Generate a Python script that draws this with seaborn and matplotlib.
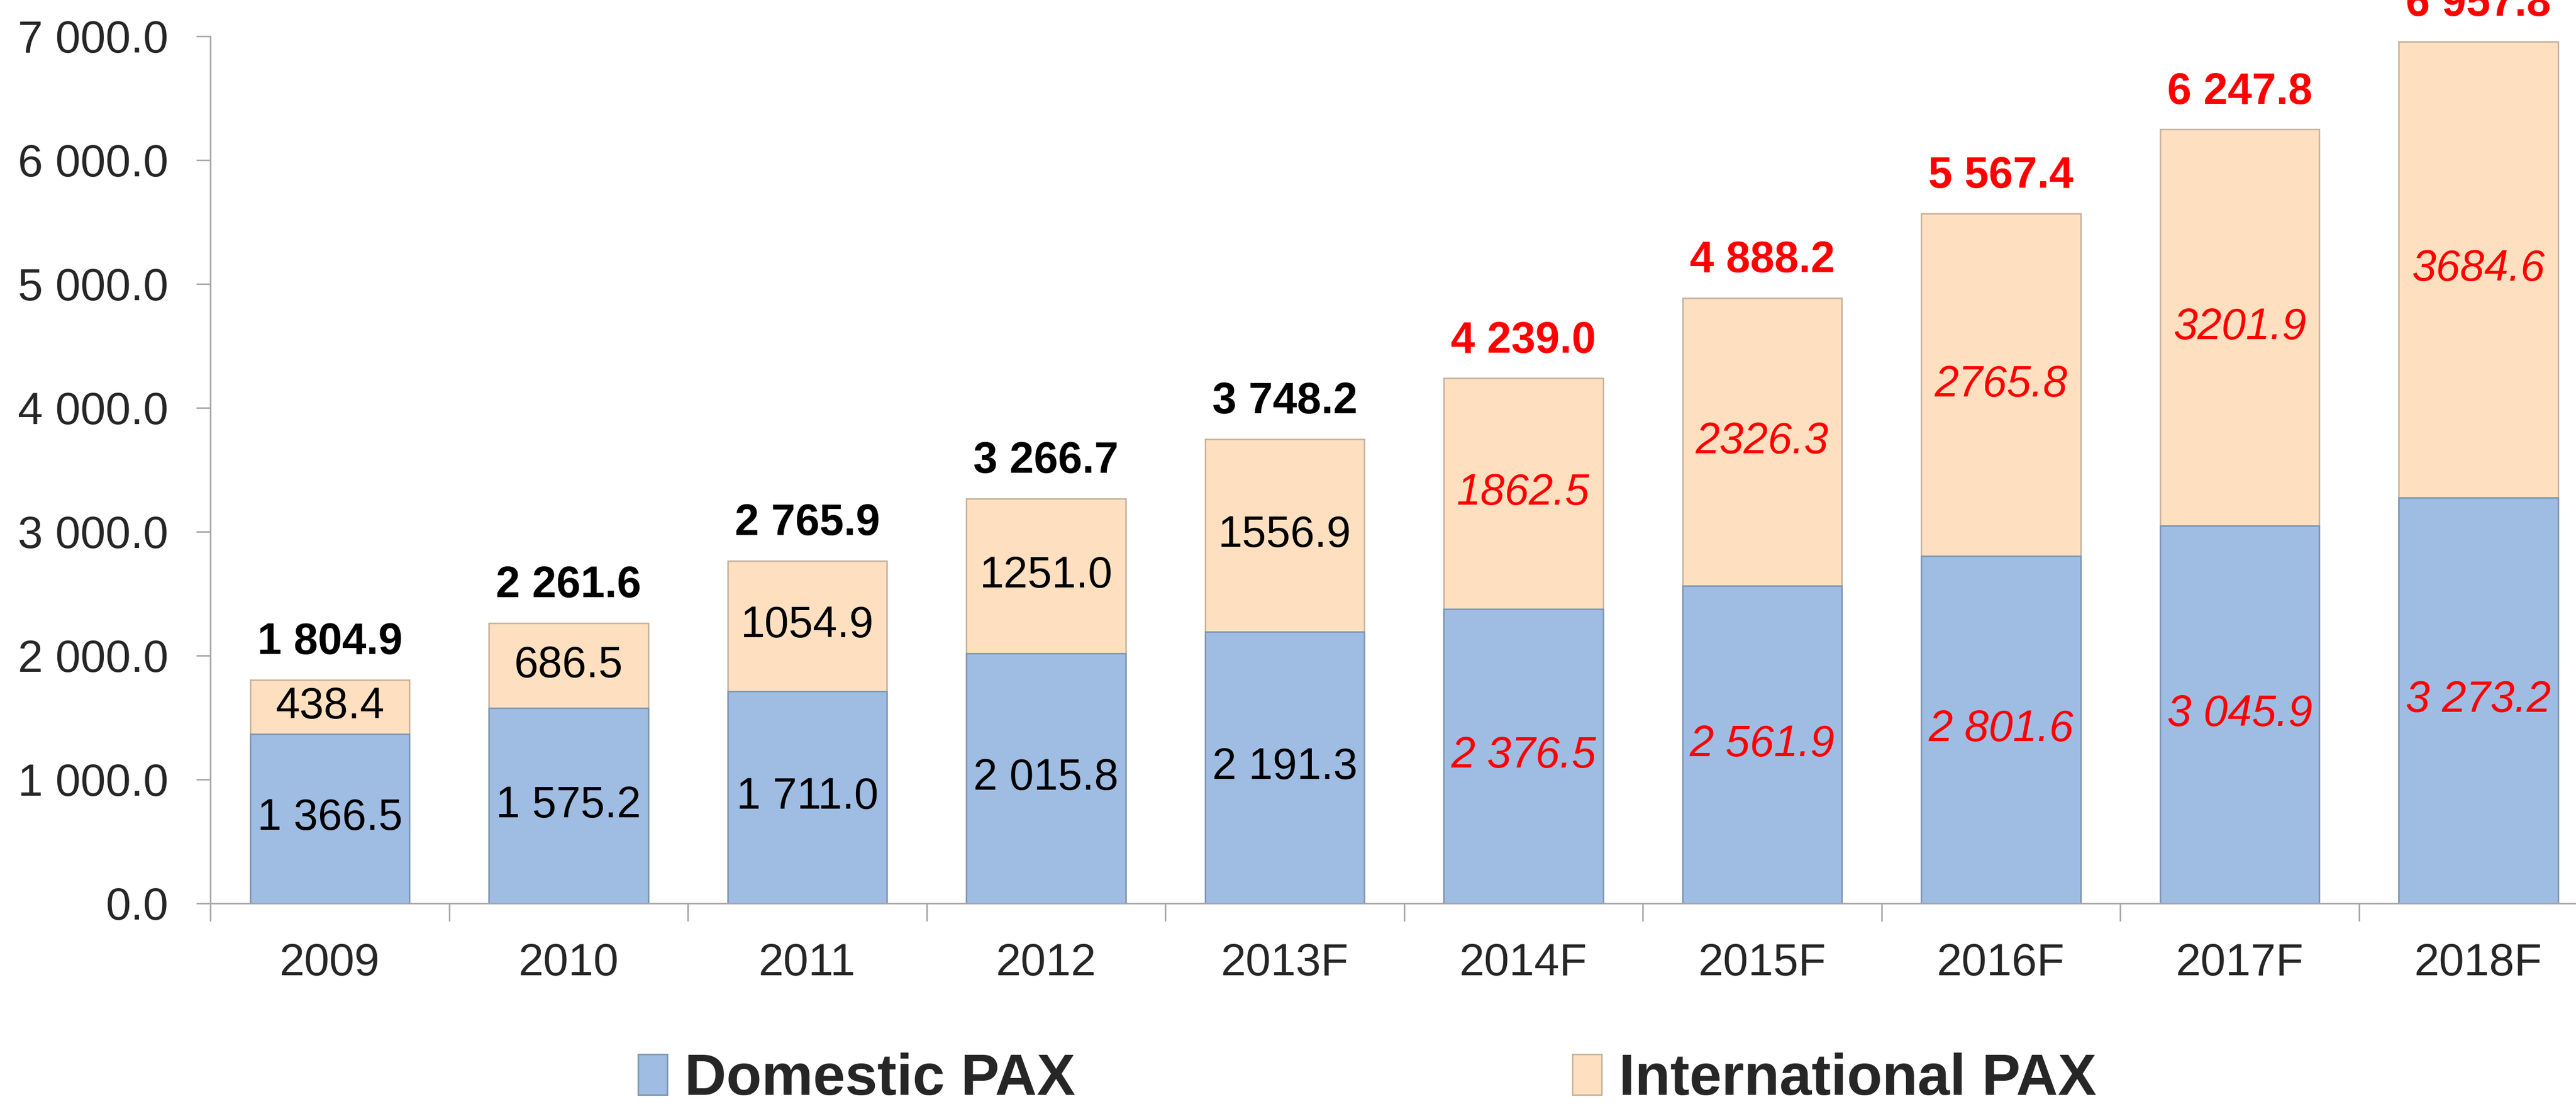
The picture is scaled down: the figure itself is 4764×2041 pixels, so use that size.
import matplotlib
matplotlib.use("Agg")
import matplotlib.pyplot as plt
import seaborn as sns
import pandas as pd
from matplotlib.patches import Patch

years = ["2009", "2010", "2011", "2012", "2013F",
         "2014F", "2015F", "2016F", "2017F", "2018F"]
domestic = [1366.5, 1575.2, 1711.0, 2015.8, 2191.3,
            2376.5, 2561.9, 2801.6, 3045.9, 3273.2]
international = [438.4, 686.5, 1054.9, 1251.0, 1556.9,
                 1862.5, 2326.3, 2765.8, 3201.9, 3684.6]
# totals as printed on the chart (source rounding differs slightly)
totals = [1804.9, 2261.6, 2765.9, 3266.7, 3748.2,
          4239.0, 4888.2, 5567.4, 6247.8, 6957.8]
forecast = [False, False, False, False, False, True, True, True, True, True]

BLUE = "#9FBDE3"
BLUE_EDGE = "#7F96B5"
PEACH = "#FEE0C0"
PEACH_EDGE = "#C9B39C"
TICK_GRAY = "#A6A6A6"


def fmt_space(v):
    return f"{v:,.1f}".replace(",", " ")


def main():
    df = pd.DataFrame({"year": years, "domestic": domestic,
                       "international": international, "total": totals})

    sns.set_style("white")
    plt.rcParams["font.family"] = ["Liberation Sans", "DejaVu Sans"]

    fig = plt.figure(figsize=(47.64, 20.41), dpi=100)
    # the plot area runs a little past the right edge, as in the source
    ax = fig.add_axes([0.0817, 0.1818, 0.9267, 0.7854])

    # stacked: full total in peach, then domestic over it in blue
    sns.barplot(data=df, x="year", y="total", color=PEACH, saturation=1,
                width=0.667, edgecolor=PEACH_EDGE, linewidth=2, ax=ax)
    sns.barplot(data=df, x="year", y="domestic", color=BLUE, saturation=1,
                width=0.667, edgecolor=BLUE_EDGE, linewidth=2, ax=ax)

    ax.set_ylim(0, 7000)
    ax.set_xlim(-0.5, 9.5)
    ax.set_yticks(range(0, 7001, 1000))
    ax.set_yticklabels([fmt_space(v) for v in range(0, 7001, 1000)])
    ax.set_xlabel("")
    ax.set_ylabel("")

    # tick marks between categories, labels centered under bars
    ax.set_xticks([i - 0.5 for i in range(len(years) + 1)], minor=True)
    ax.tick_params(axis="x", which="minor", length=24, width=2,
                   color=TICK_GRAY, direction="out", bottom=True)
    ax.tick_params(axis="x", which="major", length=0, pad=52, labelsize=60)
    ax.tick_params(axis="y", length=19, width=2, color=TICK_GRAY,
                   direction="out", left=True, pad=37, labelsize=60)

    for side in ["top", "right"]:
        ax.spines[side].set_visible(False)
    for side in ["left", "bottom"]:
        ax.spines[side].set_color(TICK_GRAY)
        ax.spines[side].set_linewidth(2)

    for i, row in df.iterrows():
        col = "red" if forecast[i] else "black"
        style = "italic" if forecast[i] else "normal"
        ax.text(i, row["domestic"] / 2, fmt_space(row["domestic"]),
                ha="center", va="center", fontsize=58, color=col,
                fontstyle=style)
        ax.text(i, row["domestic"] + row["international"] / 2,
                f"{row['international']:.1f}", ha="center", va="center",
                fontsize=58, color=col, fontstyle=style)
        ax.annotate(fmt_space(row["total"]), (i, row["total"]),
                    xytext=(0, 22), textcoords="offset points",
                    ha="center", va="bottom", fontsize=58,
                    fontweight="bold", color=col, annotation_clip=False)

    handles = [Patch(facecolor=BLUE, edgecolor=BLUE_EDGE, linewidth=2),
               Patch(facecolor=PEACH, edgecolor=PEACH_EDGE, linewidth=2)]
    fig.legend(handles, ["Domestic PAX", "International PAX"],
               loc="center left", bbox_to_anchor=(0.2477, 0.022),
               ncol=2, frameon=False, borderpad=0, borderaxespad=0,
               handlelength=0.5, handleheight=0.7, handletextpad=0.3,
               columnspacing=8.6,
               prop={"size": 77, "weight": "bold"})

    fig.savefig("out.png", dpi=100)


if __name__ == "__main__":
    main()
